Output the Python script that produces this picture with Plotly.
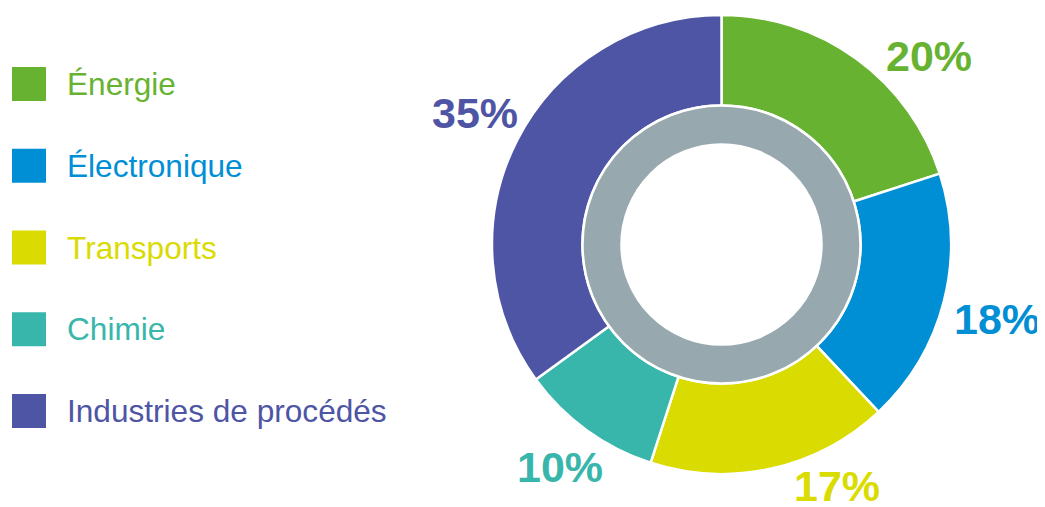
import plotly.graph_objects as go

# ---- data ----
categories = ["Énergie", "Électronique", "Transports", "Chimie", "Industries de procédés"]
shares = [20, 18, 17, 10, 35]
colors = ["#67B331", "#008FD5", "#DADB00", "#39B6AB", "#4E55A4"]
ring_color = "#97A8AF"

W, H = 1045, 507
OFF = 8  # page body margin offset of the figure div
FONT = "Liberation Sans, Arial, sans-serif"

# ---- geometry (screen pixels, converted to figure pixels) ----
cx, cy = 721.5 - OFF, 244.5 - OFF
r_out, r_ring, r_hole = 229.5, 139.0, 100.0

def dom_x(r):
    return [(cx - r) / W, (cx + r) / W]

def dom_y(r):
    return [(H - cy - r) / H, (H - cy + r) / H]

fig = go.Figure()

fig.add_trace(go.Pie(
    labels=categories, values=shares, sort=False, direction="clockwise",
    rotation=0, hole=r_ring / r_out,
    marker=dict(colors=colors, line=dict(color="white", width=2.5)),
    textinfo="none", hoverinfo="label+percent", showlegend=False,
    domain=dict(x=dom_x(r_out), y=dom_y(r_out)),
))

fig.add_trace(go.Pie(
    labels=["ring"], values=[1], sort=False, hole=r_hole / r_ring,
    marker=dict(colors=[ring_color], line=dict(color="white", width=2.5)),
    textinfo="none", hoverinfo="skip", showlegend=False,
    domain=dict(x=dom_x(r_ring), y=dom_y(r_ring)),
))

# ---- custom legend: square swatches on a hidden categorical axis ----
fig.add_trace(go.Scatter(
    x=[29 - OFF] * len(categories), y=categories, mode="markers",
    marker=dict(symbol="square", size=34, color=colors, line=dict(width=0)),
    hoverinfo="skip", showlegend=False,
))

annotations = []
for cat, col in zip(categories, colors):
    annotations.append(dict(
        x=65 - OFF, y=cat, xref="x", yref="y", text=cat, showarrow=False,
        xanchor="left", yanchor="middle",
        font=dict(family=FONT, size=31.6, color=col),
    ))

# percent labels (screen pixel positions of label centres)
label_pos = [(929, 56), (997, 319), (837, 486), (560, 467), (475, 113)]
for v, col, (px, py) in zip(shares, colors, label_pos):
    annotations.append(dict(
        x=px - OFF, y=1 - (py - OFF) / H, xref="x", yref="paper", text=f"<b>{v}%</b>",
        showarrow=False, xanchor="center", yanchor="middle",
        font=dict(family=FONT, size=43, color=col),
    ))

# categorical y axis tuned so legend rows are 82 px apart, first at y=84 px
step = 81.75
r_top = -(84 - OFF) / step
r_bot = r_top + H / step

fig.update_layout(
    width=W, height=H, margin=dict(l=0, r=0, t=0, b=0),
    paper_bgcolor="white", plot_bgcolor="rgba(0,0,0,0)",
    xaxis=dict(range=[0, W], visible=False, domain=[0, 1], fixedrange=True),
    yaxis=dict(type="category", categoryorder="array", categoryarray=categories,
               range=[r_bot, r_top], visible=False, domain=[0, 1], fixedrange=True),
    annotations=annotations,
    showlegend=False,
)

fig.write_html("out.html")
